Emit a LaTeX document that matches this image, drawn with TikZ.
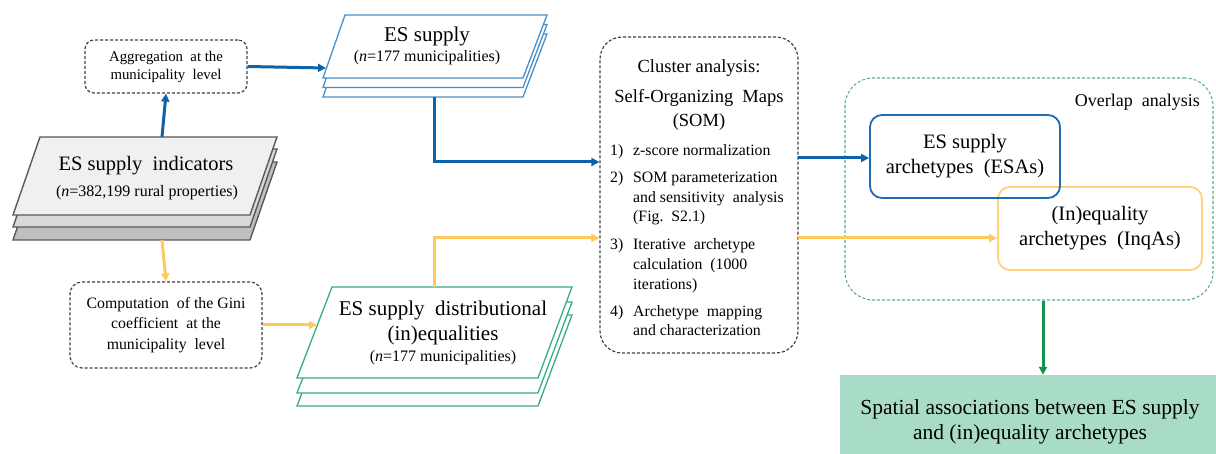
\documentclass[tikz,border=0pt]{standalone}
\usepackage{fontspec}
\setmainfont{Liberation Serif}
\usetikzlibrary{arrows.meta}
\definecolor{bluearr}{HTML}{0E62A8}
\definecolor{orng}{HTML}{FFC95E}
\definecolor{grn}{HTML}{14934C}
\definecolor{esblue}{HTML}{4A8FC7}
\definecolor{esgreen}{HTML}{3AAA88}
\definecolor{overlapc}{HTML}{5FAE98}
\definecolor{esaBlue}{HTML}{1E6BB0}
\definecolor{inqOr}{HTML}{FFD27A}
\definecolor{spfill}{HTML}{A9DCC6}
\definecolor{dgray}{HTML}{404040}
\definecolor{sheetA}{HTML}{F0F0F0}
\definecolor{sheetB}{HTML}{D9D9D9}
\definecolor{sheetC}{HTML}{BFBFBF}
\definecolor{sheetEdge}{HTML}{595959}
\tikzset{
  procbox/.style={draw=dgray, line width=1.2pt, dash pattern=on 3pt off 2pt, rounded corners=9pt, align=center, inner sep=0pt},
  arrb/.style={draw=bluearr, line width=3pt, -{Triangle[length=8pt,width=8pt]}},
  arro/.style={draw=orng, line width=3pt, -{Triangle[length=8pt,width=8pt]}},
  arrg/.style={draw=grn, line width=3pt, -{Triangle[length=8pt,width=8pt]}},
  txt/.style={inner sep=0pt, align=center, text=black},
  itm/.style={inner sep=0pt, anchor=west, font=\fontsize{15.8}{19}\selectfont, text height=11pt, text depth=3.5pt},
}
\begin{document}
\begin{tikzpicture}[x=1pt,y=-1pt]
\useasboundingbox (0,0) rectangle (1216,454);

% ---------- ES supply indicators stack ----------
\foreach \dy/\col in {25/sheetC, 12/sheetB, 0/sheetA}{
  \draw[sheetEdge, line width=1.4pt, fill=\col] (40,137+\dy) -- (277,137+\dy) -- (250,215+\dy) -- (13,215+\dy) -- cycle;
}
\node[txt, font=\fontsize{20.5}{24}\selectfont] (indT) at (146,166) {ES supply\ \ indicators};
\node[txt, font=\fontsize{16}{18}\selectfont] (indS) at (147,193) {(\textit{n}=382,199 rural properties)};
\coordinate (indtop) at (162,137);
\coordinate (indbot) at (162,240);

% ---------- ES supply stack ----------
\foreach \dy in {19, 9.5, 0}{
  \draw[esblue, line width=1.3pt, fill=white] (345,15+\dy) -- (547,15+\dy) -- (523,78+\dy) -- (323,78+\dy) -- cycle;
}
\node[txt, font=\fontsize{21}{24}\selectfont] (essT) at (427,36) {ES supply};
\node[txt, font=\fontsize{16}{18}\selectfont] (essS) at (427,58) {(\textit{n}=177 municipalities)};
\coordinate (essleft) at (326,68);
\coordinate (essbot) at (434,97);

% ---------- ES supply distributional stack ----------
\foreach \dy in {28, 15, 0}{
  \draw[esgreen, line width=1.3pt, fill=white] (332,287+\dy) -- (572,287+\dy) -- (538,378+\dy) -- (297,378+\dy) -- cycle;
}
\node[txt, font=\fontsize{21}{24}\selectfont] (disT) at (443,310) {ES supply\ \ distributional};
\node[txt, font=\fontsize{21}{24}\selectfont] (disT2) at (443,335) {(in)equalities};
\node[txt, font=\fontsize{16}{18}\selectfont] (disS) at (443,358) {(\textit{n}=177 municipalities)};
\coordinate (disleft) at (317,325);
\coordinate (distop) at (434,287);

% ---------- process boxes ----------
\node[procbox, minimum width=162pt, minimum height=53pt, font=\fontsize{14.8}{18}\selectfont] (agg) at (166,66.5) {Aggregation\ \ at the\\municipality\ \ level};
\node[procbox, minimum width=192pt, minimum height=86pt, rounded corners=12pt, font=\fontsize{15.8}{20.5}\selectfont] (gini) at (166,325) {Computation\ \ of the Gini\\coefficient\ \ at the\\municipality\ \ level};

% ---------- cluster box ----------
\node[procbox, minimum width=198pt, minimum height=316pt, rounded corners=22pt] (clu) at (699,195) {};
\node[txt, font=\fontsize{18.5}{22}\selectfont] (cluT1) at (699,68) {Cluster analysis:};
\node[txt, font=\fontsize{18.5}{22}\selectfont] (cluT2) at (699,98) {Self-Organizing\ \ Maps};
\node[txt, font=\fontsize{18.5}{22}\selectfont] (cluT3) at (699,122) {(SOM)};
\node[itm] (n1) at (610,152) {1)};
\node[itm] (i1a) at (633,152) {z-score normalization};
\node[itm] (n2) at (610,179) {2)};
\node[itm] (i2a) at (633,179) {SOM parameterization};
\node[itm] (i2b) at (633,198.5) {and sensitivity\ \ analysis};
\node[itm] (i2c) at (633,218) {(Fig.\ \ S2.1)};
\node[itm] (n3) at (610,246) {3)};
\node[itm] (i3a) at (633,246) {Iterative\ \ archetype};
\node[itm] (i3b) at (633,266) {calculation\ \ (1000};
\node[itm] (i3c) at (633,286) {iterations)};
\node[itm] (n4) at (610,313) {4)};
\node[itm] (i4a) at (633,313) {Archetype\ \ mapping};
\node[itm] (i4b) at (633,332) {and characterization};

% ---------- overlap analysis ----------
\node[draw=overlapc, line width=1.1pt, dash pattern=on 3pt off 2pt, rounded corners=28pt, minimum width=368pt, minimum height=222pt, inner sep=0pt] (ovl) at (1029,189) {};
\node[txt, anchor=east, font=\fontsize{18}{20}\selectfont] (ovlT) at (1200,102) {Overlap\ \ analysis};
\node[draw=inqOr, line width=1.8pt, rounded corners=12pt, minimum width=204pt, minimum height=83pt, align=center, inner sep=0pt, font=\fontsize{20.5}{25}\selectfont] (inq) at (1100,228.5) {(In)equality\\archetypes\ \ (InqAs)};
\node[draw=esaBlue, line width=1.8pt, rounded corners=12pt, minimum width=190pt, minimum height=83pt, align=center, inner sep=0pt, font=\fontsize{20.5}{25}\selectfont] (esa) at (965,156.5) {ES supply\\archetypes\ \ (ESAs)};

% ---------- spatial associations ----------
\node[fill=spfill, minimum width=380pt, minimum height=94pt, align=center, inner sep=0pt, font=\fontsize{21.5}{25}\selectfont] (spa) at (1030,422) {Spatial associations between ES supply\\and (in)equality archetypes};

% ---------- connectors ----------
\draw[arrb] (indtop) -- (agg.south);
\draw[arrb] (agg.east) -- (essleft);
\draw[arrb] (essbot) |- (clu.west |- 0,162);
\coordinate (cluB) at (798,158);
\draw[arrb] (cluB) -- (cluB -| esa.west);
\draw[arro] (indbot) -- (gini.north);
\draw[arro] (gini.east) -- (disleft);
\draw[arro] (distop) |- (clu.west |- 0,238);
\coordinate (cluO) at (798,238);
\draw[arro] (cluO) -- (cluO -| inq.west);
\draw[arrg] (ovl.south -| 1043,0) -- (spa.north -| 1043,0);
\end{tikzpicture}
\end{document}
